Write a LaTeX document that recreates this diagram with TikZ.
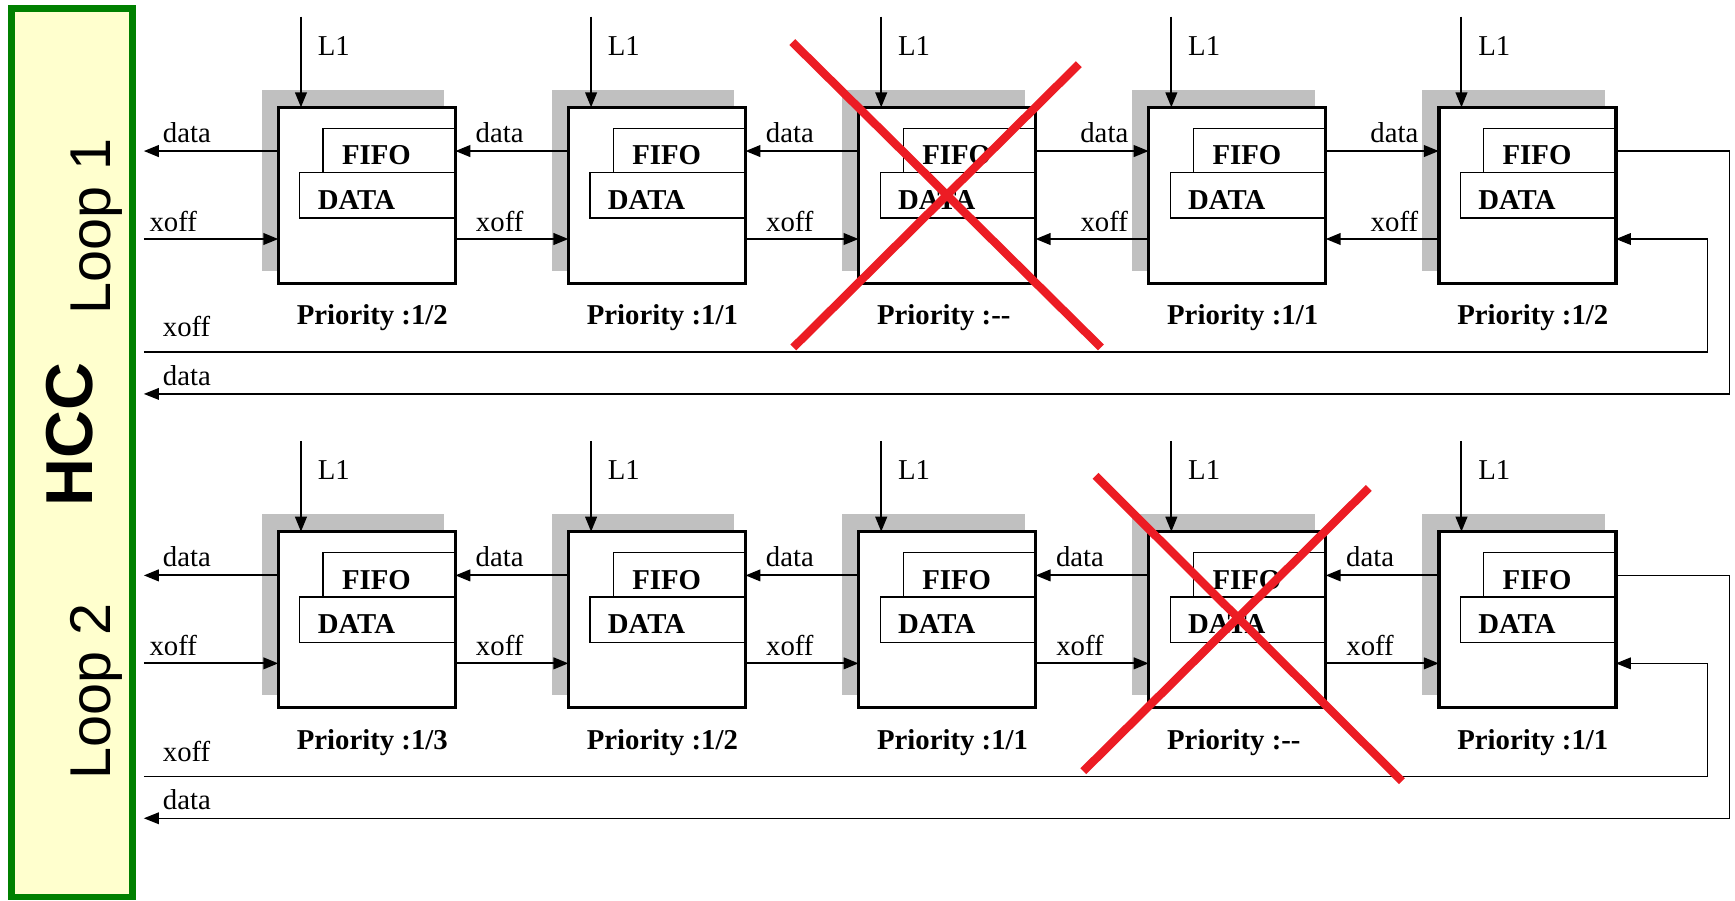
\documentclass[tikz,border=0pt]{standalone}
\usepackage{fontspec}
\setmainfont{Liberation Serif}
\newfontfamily\arialfont{Liberation Sans}
\usetikzlibrary{arrows.meta,calc}
\definecolor{hccgreen}{RGB}{0,128,0}
\definecolor{hccyellow}{RGB}{255,255,206}
\definecolor{shadowgray}{RGB}{192,192,192}
\definecolor{xred}{RGB}{236,28,36}
\begin{document}
\begin{tikzpicture}[x=1pt,y=-1pt,
  conn/.style={line width=1.8pt},
  arr/.style={conn,-{Triangle[length=13.5pt,width=10.5pt]}},
  retarr/.style={line width=1.2pt,-{Triangle[length=13.5pt,width=10.5pt]}},
  lbl/.style={font=\fontsize{26}{30}\selectfont, inner sep=0pt, anchor=base west},
  clbl/.style={font=\fontsize{26}{30}\selectfont, inner sep=0pt, anchor=base},
  blk/.style={draw, line width=3.2pt, fill=white, minimum width=160pt, minimum height=159pt, inner sep=0pt, outer sep=0pt},
  inbox/.style={draw, line width=1.1pt},
  boxtxt/.style={font=\fontsize{26}{30}\selectfont\bfseries, inner sep=0pt, anchor=base west},
  cross/.style={draw=xred, line width=7.5pt},
  sidetxt/.style={rotate=90, anchor=base, inner sep=0pt}
]
\useasboundingbox (0,0) rectangle (1568,814);

% HCC panel
\draw[draw=hccgreen, fill=hccyellow, line width=6pt] (10.5,7.5) rectangle (119.5,810.5);
\node[sidetxt, font=\arialfont\bfseries\fontsize{60}{60}\selectfont] (hcc) at (84,393) {HCC};
\node[sidetxt, font=\arialfont\fontsize{52}{52}\selectfont] (loop1) at (100,205) {Loop 1};
\node[sidetxt, font=\arialfont\fontsize{52}{52}\selectfont] (loop2) at (100,625) {Loop 2};

% boxes
\foreach \r in {0,1} {
  \foreach \i in {1,...,5} {
    \pgfmathsetmacro{\L}{251.5+262.2*(\i-1)}
    \pgfmathsetmacro{\T}{97+383.5*\r}
    \fill[shadowgray] (\L-15,\T-16) rectangle (\L+150,\T+148);
    \node[blk] (b\r\i) at (\L+80,\T+79.5) {};
    \draw[inbox] (\L+40.5,\T+19) rectangle (\L+160,\T+59);
    \draw[inbox] (\L+19.5,\T+59) rectangle (\L+160,\T+100);
    \node[boxtxt] (fifo\r\i) at (\L+57.5,\T+52) {FIFO};
    \node[boxtxt] (data\r\i) at (\L+35.5,\T+92) {DATA};
    \coordinate (top\r\i) at (\L+20.5,\T-82);
    \draw[arr] (top\r\i) -- (top\r\i |- b\r\i.north);
    \node[lbl] (lone\r\i) at (\L+35.5,\T-47) {L1};
    \coordinate (dl\r\i) at ($(b\r\i.north west)+(0,39.5)$);
    \coordinate (dr\r\i) at ($(b\r\i.north east)+(0,39.5)$);
    \coordinate (xl\r\i) at ($(b\r\i.north west)+(0,119)$);
    \coordinate (xr\r\i) at ($(b\r\i.north east)+(0,119)$);
  }
}

% priorities
\node[boxtxt] (p01) at ($(b01.south west)+(16.5,37.7)$) {Priority :1/2};
\node[boxtxt] (p02) at ($(b02.south west)+(16.5,37.7)$) {Priority :1/1};
\node[boxtxt] (p03) at ($(b03.south west)+(16.5,37.7)$) {Priority :-{}-};
\node[boxtxt] (p04) at ($(b04.south west)+(16.5,37.7)$) {Priority :1/1};
\node[boxtxt] (p05) at ($(b05.south west)+(16.5,37.7)$) {Priority :1/2};
\node[boxtxt] (p11) at ($(b11.south west)+(16.5,37.7)$) {Priority :1/3};
\node[boxtxt] (p12) at ($(b12.south west)+(16.5,37.7)$) {Priority :1/2};
\node[boxtxt] (p13) at ($(b13.south west)+(16.5,37.7)$) {Priority :1/1};
\node[boxtxt] (p14) at ($(b14.south west)+(16.5,37.7)$) {Priority :-{}-};
\node[boxtxt] (p15) at ($(b15.south west)+(16.5,37.7)$) {Priority :1/1};

\coordinate (edge) at (130,0);

% row 0 connectors
\draw[arr] (dl01) -- (dl01 -| edge);
\draw[arr] (xl01 -| edge) -- (xl01);
\draw[arr] (dl02) -- (dr01);
\draw[arr] (xr01) -- (xl02);
\draw[arr] (dl03) -- (dr02);
\draw[arr] (xr02) -- (xl03);
\draw[arr] (dr03) -- (dl04);
\draw[arr] (xl04) -- (xr03);
\draw[arr] (dr04) -- (dl05);
\draw[arr] (xl05) -- (xr04);
\coordinate (rd0) at (1563,356);
\coordinate (de0) at (130,356);
\coordinate (xs0) at (130,318);
\coordinate (rx0) at (1543,318);
\draw[retarr] (dr05) -| (rd0) -- (de0);
\draw[retarr] (xs0) -- (rx0) |- (xr05);

% row 1 connectors
\draw[arr] (dl11) -- (dl11 -| edge);
\draw[arr] (xl11 -| edge) -- (xl11);
\draw[arr] (dl12) -- (dr11);
\draw[arr] (xr11) -- (xl12);
\draw[arr] (dl13) -- (dr12);
\draw[arr] (xr12) -- (xl13);
\draw[arr] (dl14) -- (dr13);
\draw[arr] (xr13) -- (xl14);
\draw[arr] (dl15) -- (dr14);
\draw[arr] (xr14) -- (xl15);
\coordinate (rd1) at (1563,739.5);
\coordinate (de1) at (130,739.5);
\coordinate (xs1) at (130,701.5);
\coordinate (rx1) at (1543,701.5);
\draw[retarr] (dr15) -| (rd1) -- (de1);
\draw[retarr] (xs1) -- (rx1) |- (xr15);

% labels row 0
\node[lbl] (ld0) at (147,128.5) {data};
\node[lbl] (lx0) at (135,209) {xoff};
\node[clbl] (g1d0) at (451.6,128.5) {data};
\node[clbl] (g1x0) at (451.6,209) {xoff};
\node[clbl] (g2d0) at (713.8,128.5) {data};
\node[clbl] (g2x0) at (713.8,209) {xoff};
\node[clbl] (g3d0) at (998,128.5) {data};
\node[clbl] (g3x0) at (998,209) {xoff};
\node[clbl] (g4d0) at (1260.2,128.5) {data};
\node[clbl] (g4x0) at (1260.2,209) {xoff};
\node[lbl] (bx0) at (147,304.5) {xoff};
\node[lbl] (bd0) at (147,348) {data};

% labels row 1
\node[lbl] (ld1) at (147,512) {data};
\node[lbl] (lx1) at (135,592.5) {xoff};
\node[clbl] (g1d1) at (451.6,512) {data};
\node[clbl] (g1x1) at (451.6,592.5) {xoff};
\node[clbl] (g2d1) at (713.8,512) {data};
\node[clbl] (g2x1) at (713.8,592.5) {xoff};
\node[clbl] (g3d1) at (976,512) {data};
\node[clbl] (g3x1) at (976,592.5) {xoff};
\node[clbl] (g4d1) at (1238.2,512) {data};
\node[clbl] (g4x1) at (1238.2,592.5) {xoff};
\node[lbl] (bx1) at (147,688) {xoff};
\node[lbl] (bd1) at (147,731.5) {data};

% red crosses
\draw[cross] (716,38) -- (995,314);
\draw[cross] (975,58) -- (717,314);
\draw[cross] (990,430) -- (1267,706);
\draw[cross] (1237,441) -- (979,697);
\end{tikzpicture}
\end{document}
